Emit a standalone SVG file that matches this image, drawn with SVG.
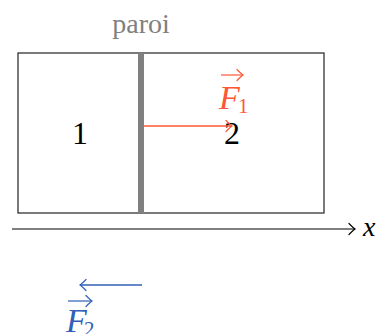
<svg xmlns="http://www.w3.org/2000/svg" width="377" height="334" viewBox="0 0 377 334">
<style>
.serif{font-family:"Liberation Serif","DejaVu Serif",serif}
.it{font-style:italic}
.orange{fill:#ff5733}
.blue{fill:#3060b8}
</style>
<defs>
<marker id="hkO" markerUnits="userSpaceOnUse" viewBox="-8 -7 10 14" markerWidth="10" markerHeight="14" refX="0" refY="0" orient="auto">
<path d="M-6,-5.5 Q-1.8,-1.2 0,0 Q-1.8,1.2 -6,5.5" fill="none" stroke="#ff5733" stroke-width="1.2" stroke-linecap="round"/>
</marker>
<marker id="hkB" markerUnits="userSpaceOnUse" viewBox="-8 -7 10 14" markerWidth="10" markerHeight="14" refX="0" refY="0" orient="auto">
<path d="M-6,-5.5 Q-1.8,-1.2 0,0 Q-1.8,1.2 -6,5.5" fill="none" stroke="#3060b8" stroke-width="1.2" stroke-linecap="round"/>
</marker>
<marker id="hkK" markerUnits="userSpaceOnUse" viewBox="-8 -7 10 14" markerWidth="10" markerHeight="14" refX="0" refY="0" orient="auto">
<path d="M-6,-5.5 Q-1.8,-1.2 0,0 Q-1.8,1.2 -6,5.5" fill="none" stroke="#000" stroke-width="1.2" stroke-linecap="round"/>
</marker>
</defs>
<rect width="377" height="334" fill="#fff"/>
<g id="box">
<rect x="18" y="53" width="306" height="160" fill="none" stroke="#222" stroke-width="1.2"/>
</g>
<g id="wall">
<rect x="138" y="53" width="6" height="160" fill="#808080"/>
</g>
<g id="paroi">
<text class="serif" x="141" y="33" font-size="28" fill="#808080" text-anchor="middle">paroi</text>
</g>
<g id="compartment1">
<text class="serif" x="80" y="144" font-size="32" text-anchor="middle">1</text>
</g>
<g id="compartment2">
<text class="serif" x="232" y="144" font-size="32" text-anchor="middle">2</text>
</g>
<g id="connectors">
<line x1="144" y1="126" x2="232" y2="126" stroke="#ff5733" stroke-width="1.3" marker-end="url(#hkO)"/>
<line x1="12" y1="229" x2="355" y2="229" stroke="#000" stroke-width="1.2" marker-end="url(#hkK)"/>
<line x1="142" y1="285" x2="80" y2="285" stroke="#3060b8" stroke-width="1.3" marker-end="url(#hkB)"/>
</g>
<g id="labelF1">
<line x1="221" y1="75" x2="243" y2="75" stroke="#ff5733" stroke-width="1.2" marker-end="url(#hkO)"/>
<text class="serif it orange" x="219" y="109" font-size="34">F</text>
<text class="serif orange" x="238" y="113" font-size="21">1</text>
</g>
<g id="labelF2">
<line x1="68" y1="301" x2="92" y2="301" stroke="#3060b8" stroke-width="1.2" marker-end="url(#hkB)"/>
<text class="serif it blue" x="66" y="332" font-size="34">F</text>
<text class="serif blue" x="84" y="336" font-size="21">2</text>
</g>
<g id="axislabel">
<text class="serif it" x="363" y="236" font-size="28">x</text>
</g>
</svg>
